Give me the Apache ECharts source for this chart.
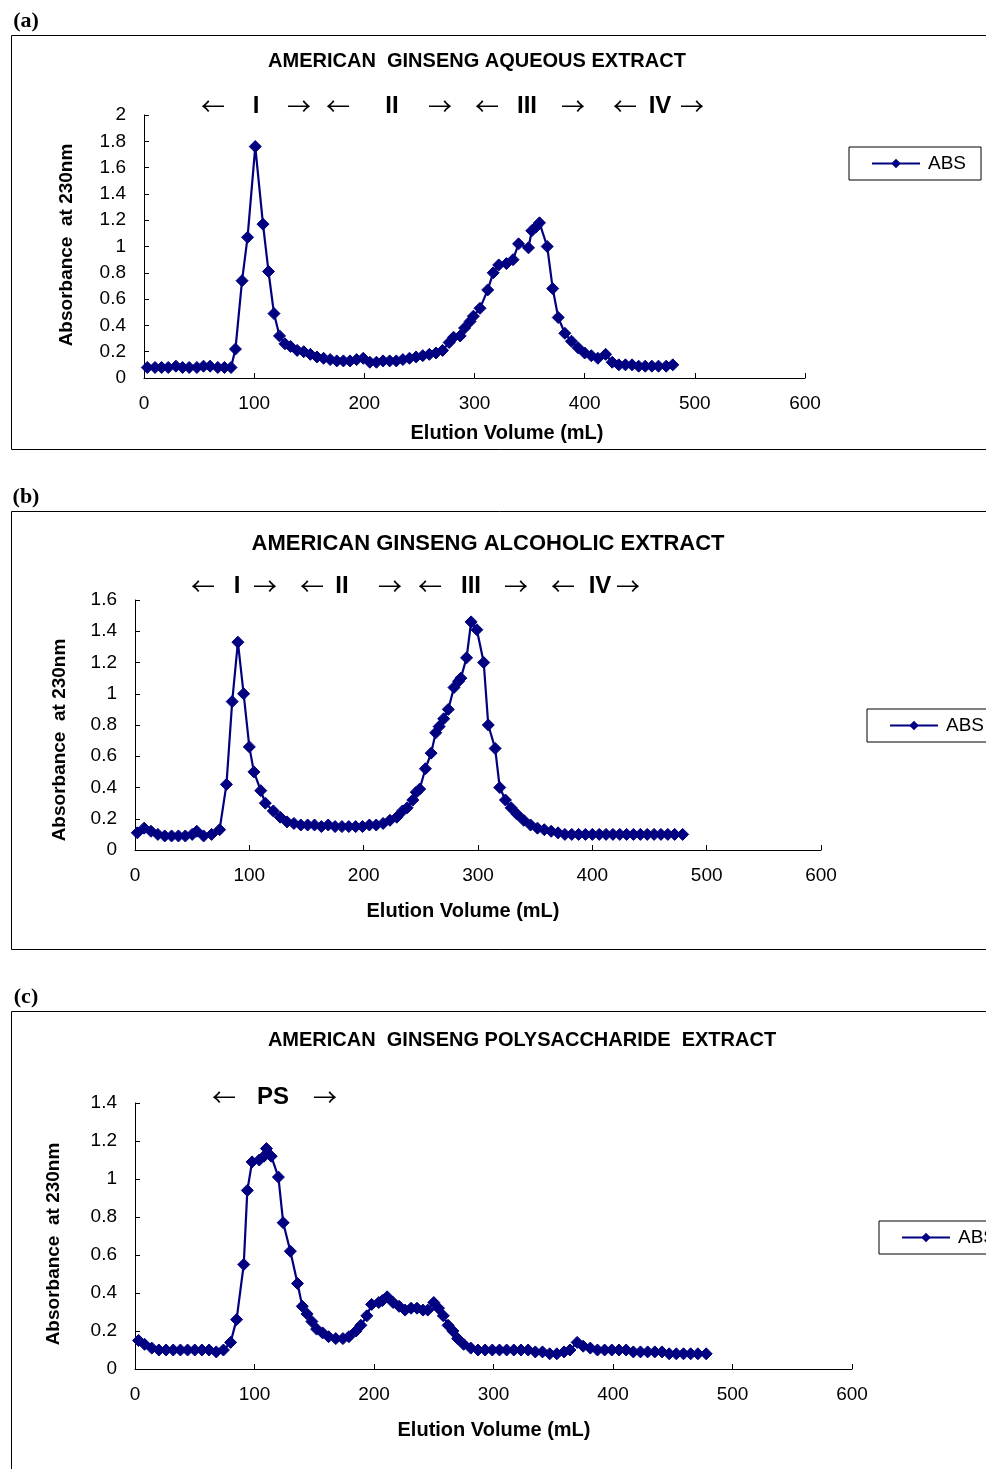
<!DOCTYPE html>
<html><head><meta charset="utf-8">
<script src="https://cdn.jsdelivr.net/npm/echarts@6/dist/echarts.min.js"></script>
<style>html,body{margin:0;padding:0;background:#fff}#c{width:986px;height:1469px}</style>
</head><body><div id="c"></div>
<script>
// Panel (a): aqueous extract [elution volume mL, absorbance]
const dataA = [[3,0.08],[10,0.08],[16,0.08],[22,0.08],[29,0.09],[35,0.08],[41,0.08],[48,0.08],[54,0.09],[60,0.09],[67,0.08],[73,0.08],[79,0.08],[83,0.22],[89,0.74],[94,1.07],[101,1.76],[108,1.17],[113,0.81],[118,0.49],[123,0.32],[128,0.26],[133,0.24],[139,0.21],[145,0.2],[151,0.18],[157,0.16],[163,0.15],[169,0.14],[175,0.13],[181,0.13],[187,0.13],[193,0.14],[199,0.15],[205,0.12],[211,0.12],[217,0.13],[223,0.13],[229,0.13],[235,0.14],[241,0.15],[247,0.16],[253,0.17],[259,0.18],[265,0.19],[271,0.21],[277,0.27],[281,0.31],[287,0.32],[291,0.38],[296,0.43],[299,0.47],[305,0.53],[312,0.67],[317,0.8],[322,0.86],[329,0.87],[335,0.9],[340,1.02],[349,0.99],[352,1.12],[356,1.15],[359,1.18],[366,1.0],[371,0.68],[376,0.46],[382,0.34],[388,0.28],[394,0.23],[400,0.19],[406,0.17],[412,0.15],[419,0.18],[425,0.12],[431,0.1],[437,0.1],[443,0.1],[449,0.09],[455,0.09],[461,0.09],[467,0.09],[474,0.09],[480,0.1]];
// Panel (b): alcoholic extract
const dataB = [[2,0.11],[8,0.14],[14,0.12],[20,0.1],[26,0.09],[32,0.09],[38,0.09],[44,0.09],[50,0.1],[54,0.12],[60,0.09],[67,0.1],[74,0.13],[80,0.42],[85,0.95],[90,1.33],[95,1.0],[100,0.66],[104,0.5],[110,0.38],[114,0.3],[121,0.25],[127,0.21],[133,0.18],[139,0.17],[145,0.16],[151,0.16],[157,0.16],[163,0.15],[169,0.16],[175,0.15],[181,0.15],[187,0.15],[193,0.15],[199,0.15],[205,0.16],[211,0.16],[217,0.17],[223,0.19],[229,0.21],[234,0.25],[238,0.27],[243,0.32],[246,0.37],[249,0.39],[254,0.52],[259,0.62],[263,0.75],[266,0.79],[270,0.84],[274,0.9],[279,1.04],[283,1.08],[285,1.1],[290,1.23],[294,1.46],[299,1.41],[305,1.2],[309,0.8],[315,0.65],[319,0.4],[324,0.32],[329,0.27],[334,0.23],[340,0.19],[346,0.16],[352,0.14],[358,0.13],[364,0.12],[370,0.11],[376,0.1],[382,0.1],[388,0.1],[394,0.1],[400,0.1],[406,0.1],[412,0.1],[418,0.1],[424,0.1],[430,0.1],[436,0.1],[442,0.1],[448,0.1],[454,0.1],[460,0.1],[466,0.1],[472,0.1],[479,0.1]];
// Panel (c): polysaccharide extract
const dataC = [[3,0.15],[8,0.13],[14,0.11],[20,0.1],[26,0.1],[32,0.1],[38,0.1],[44,0.1],[50,0.1],[56,0.1],[62,0.1],[68,0.09],[74,0.1],[80,0.14],[85,0.26],[91,0.55],[94,0.94],[98,1.09],[104,1.1],[108,1.12],[110,1.16],[114,1.12],[120,1.01],[124,0.77],[130,0.62],[136,0.45],[140,0.33],[144,0.29],[148,0.25],[152,0.21],[157,0.19],[162,0.17],[168,0.16],[174,0.16],[179,0.17],[185,0.2],[189,0.23],[194,0.28],[198,0.34],[204,0.35],[207,0.36],[211,0.38],[216,0.35],[221,0.33],[226,0.31],[231,0.32],[236,0.32],[241,0.31],[245,0.31],[250,0.35],[254,0.32],[258,0.28],[262,0.23],[266,0.2],[270,0.16],[275,0.13],[281,0.11],[287,0.1],[293,0.1],[299,0.1],[305,0.1],[311,0.1],[317,0.1],[323,0.1],[329,0.1],[335,0.09],[341,0.09],[347,0.08],[353,0.08],[359,0.09],[364,0.1],[370,0.14],[375,0.12],[381,0.11],[387,0.1],[393,0.1],[399,0.1],[405,0.1],[411,0.1],[417,0.09],[423,0.09],[429,0.09],[435,0.09],[441,0.09],[447,0.08],[453,0.08],[459,0.08],[465,0.08],[471,0.08],[478,0.08]];

const titles = ['AMERICAN  GINSENG AQUEOUS EXTRACT','AMERICAN GINSENG ALCOHOLIC EXTRACT','AMERICAN  GINSENG POLYSACCHARIDE  EXTRACT'];
const panelLabels = ['(a)','(b)','(c)'];
const yMax = [2, 1.6, 1.4];
const seriesName = 'ABS';
const xTitle = 'Elution Volume (mL)';
const yTitle = 'Absorbance  at 230nm';

const NAVY = '#000080';
const FONT = '"Liberation Sans", Arial, sans-serif';
const chart = echarts.init(document.getElementById('c'), null, {renderer:'canvas'});

const grids = [
  {left:144, top:115, width:661, height:263},
  {left:135, top:600, width:686, height:250},
  {left:135, top:1103, width:717, height:266}
];
const datas = [dataA, dataB, dataC];

function txt(text, x, y, font, extra){
  return Object.assign({type:'text', x:x, y:y, style:{text:text, font:font, fill:'#000', textAlign:'center', textVerticalAlign:'middle'}}, extra||{});
}
const graphics = [];
[[35,414],[511,438],[1011,470]].forEach((b,i)=>{
  graphics.push({type:'rect', shape:{x:11.5,y:b[0]+0.5,width:1000,height:b[1]}, style:{fill:null, stroke:'#000', lineWidth:1}});
  graphics.push(txt(panelLabels[i], 26, b[0]-14, 'bold 22px "Liberation Serif", "Times New Roman", serif'));
});
graphics.push(txt(titles[0], 477, 61, 'bold 20px '+FONT));
graphics.push(txt(titles[1], 488, 544, 'bold 22px '+FONT));
graphics.push(txt(titles[2], 522, 1040, 'bold 20px '+FONT));
[[67,245,507,433],[60,740,463,911],[54,1244,494,1430]].forEach(p=>{
  graphics.push(txt(yTitle, p[0], p[1], 'bold 19px '+FONT, {rotation:Math.PI/2}));
  graphics.push(txt(xTitle, p[2], p[3], 'bold 20px '+FONT));
});
const AR = '24px "Noto Sans CJK SC", "DejaVu Sans", sans-serif';
const RN = 'bold 24px '+FONT;
const marksA = [['\u2190',213,AR],['I',256,RN],['\u2192',299,AR],['\u2190',338,AR],['II',392,RN],['\u2192',440,AR],['\u2190',487,AR],['III',527,RN],['\u2192',573,AR],['\u2190',625,AR],['IV',660,RN],['\u2192',692,AR]];
const marksB = [['\u2190',203,AR],['I',237,RN],['\u2192',265,AR],['\u2190',312,AR],['II',342,RN],['\u2192',390,AR],['\u2190',430,AR],['III',471,RN],['\u2192',516,AR],['\u2190',563,AR],['IV',600,RN],['\u2192',628,AR]];
const marksC = [['\u2190',224,AR],['PS',273,RN],['\u2192',325,AR]];
marksA.forEach(m=>graphics.push(txt(m[0], m[1], 106, m[2])));
marksB.forEach(m=>graphics.push(txt(m[0], m[1], 586, m[2])));
marksC.forEach(m=>graphics.push(txt(m[0], m[1], 1097, m[2])));

const legends = [[849,147],[867,709],[879,1221]].map(p=>({
  left:p[0], top:p[1], data:[seriesName], orient:'horizontal',
  borderColor:'#000', borderWidth:1, borderRadius:0, padding:[7,15,7,22],
  itemWidth:48, itemHeight:12, itemGap:0, selectedMode:false,
  textStyle:{fontFamily:FONT, fontSize:19, color:'#000', padding:[0,0,0,3]}
}));

const option = {
  animation:false,
  backgroundColor:'#fff',
  grid: grids,
  legend: legends,
  xAxis: grids.map((g,i)=>({
    type:'value', gridIndex:i, min:0, max:600, interval:100,
    axisLine:{show:true, onZero:false, lineStyle:{color:'#000', width:1}},
    axisTick:{show:true, inside:true, length:5, lineStyle:{color:'#000'}},
    axisLabel:{fontFamily:FONT, fontSize:19, color:'#000', margin:16},
    splitLine:{show:false}
  })),
  yAxis: grids.map((g,i)=>({
    type:'value', gridIndex:i, min:0, max:yMax[i], interval:0.2,
    axisLine:{show:true, onZero:false, lineStyle:{color:'#000', width:1}},
    axisTick:{show:true, inside:true, length:5, lineStyle:{color:'#000'}},
    axisLabel:{fontFamily:FONT, fontSize:19, color:'#000', margin:18},
    splitLine:{show:false}
  })),
  series: datas.map((d,i)=>({
    name:seriesName, type:'line', xAxisIndex:i, yAxisIndex:i, data:d,
    symbol:'diamond', symbolSize:12, showAllSymbol:true,
    lineStyle:{color:NAVY, width:2.2}, itemStyle:{color:NAVY, borderColor:NAVY}
  })),
  graphic: graphics
};
chart.setOption(option);
</script>
</body></html>
